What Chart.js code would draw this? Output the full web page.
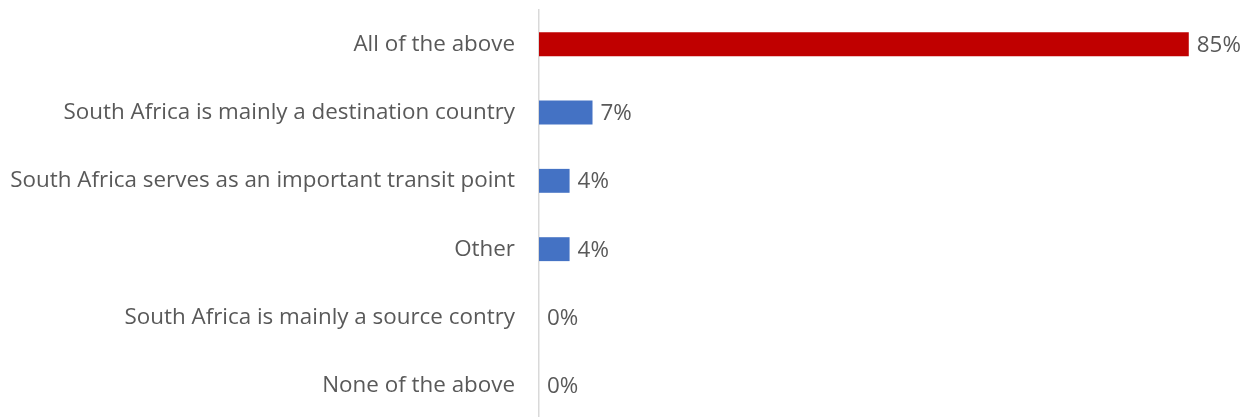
<!DOCTYPE html>
<html>
<head>
<meta charset="utf-8">
<script src="https://cdn.jsdelivr.net/npm/chart.js@4"></script>
<style>
  html, body { margin: 0; padding: 0; background: #ffffff; overflow: hidden; }
  #wrap { position: relative; width: 1246px; height: 420px; }
</style>
</head>
<body>
<div id="wrap"><canvas id="chart"></canvas></div>
<script>
// Survey responses (percent of respondents)
const categories = [
  'All of the above',
  'South Africa is mainly a destination country',
  'South Africa serves as an important transit point',
  'Other',
  'South Africa is mainly a source contry',
  'None of the above'
];
const percentages = [85, 7, 4, 4, 0, 0];
const barColors = ['#C00000', '#4472C4', '#4472C4', '#4472C4', '#4472C4', '#4472C4'];

const FONT = '"Open Sans", "DejaVu Sans", sans-serif';
const FONT_SIZE = 22.4;
const TEXT_COLOR = '#595959';

// Value labels at the end of each bar
const valueLabels = {
  id: 'valueLabels',
  afterDatasetsDraw(chart) {
    const { ctx } = chart;
    const meta = chart.getDatasetMeta(0);
    ctx.save();
    ctx.font = FONT_SIZE + 'px ' + FONT;
    ctx.fillStyle = TEXT_COLOR;
    ctx.textAlign = 'left';
    ctx.textBaseline = 'middle';
    meta.data.forEach((bar, i) => {
      const v = chart.data.datasets[0].data[i];
      ctx.fillText(v + '%', bar.x + 8, bar.y + 1);
    });
    ctx.restore();
  }
};

new Chart(document.getElementById('chart'), {
  type: 'bar',
  data: {
    labels: categories,
    datasets: [{
      data: percentages,
      backgroundColor: barColors,
      borderWidth: 0,
      barPercentage: 0.35,
      categoryPercentage: 1.0
    }]
  },
  options: {
    indexAxis: 'y',
    responsive: true,
    maintainAspectRatio: false,
    animation: false,
    layout: { padding: { top: 10, right: 19, bottom: 0, left: 0 } },
    plugins: { legend: { display: false }, tooltip: { enabled: false } },
    scales: {
      x: {
        min: 0,
        max: 90,
        display: false
      },
      y: {
        afterFit(scale) {
          scale.width = 539;
          scale.paddingTop = 0;
          scale.paddingBottom = 0;
        },
        grid: { display: false, drawTicks: false },
        border: { display: true, color: '#D9D9D9', width: 1.5 },
        ticks: {
          padding: 24,
          color: TEXT_COLOR,
          font: { family: FONT, size: FONT_SIZE }
        }
      }
    }
  },
  plugins: [valueLabels]
});
</script>
</body>
</html>
